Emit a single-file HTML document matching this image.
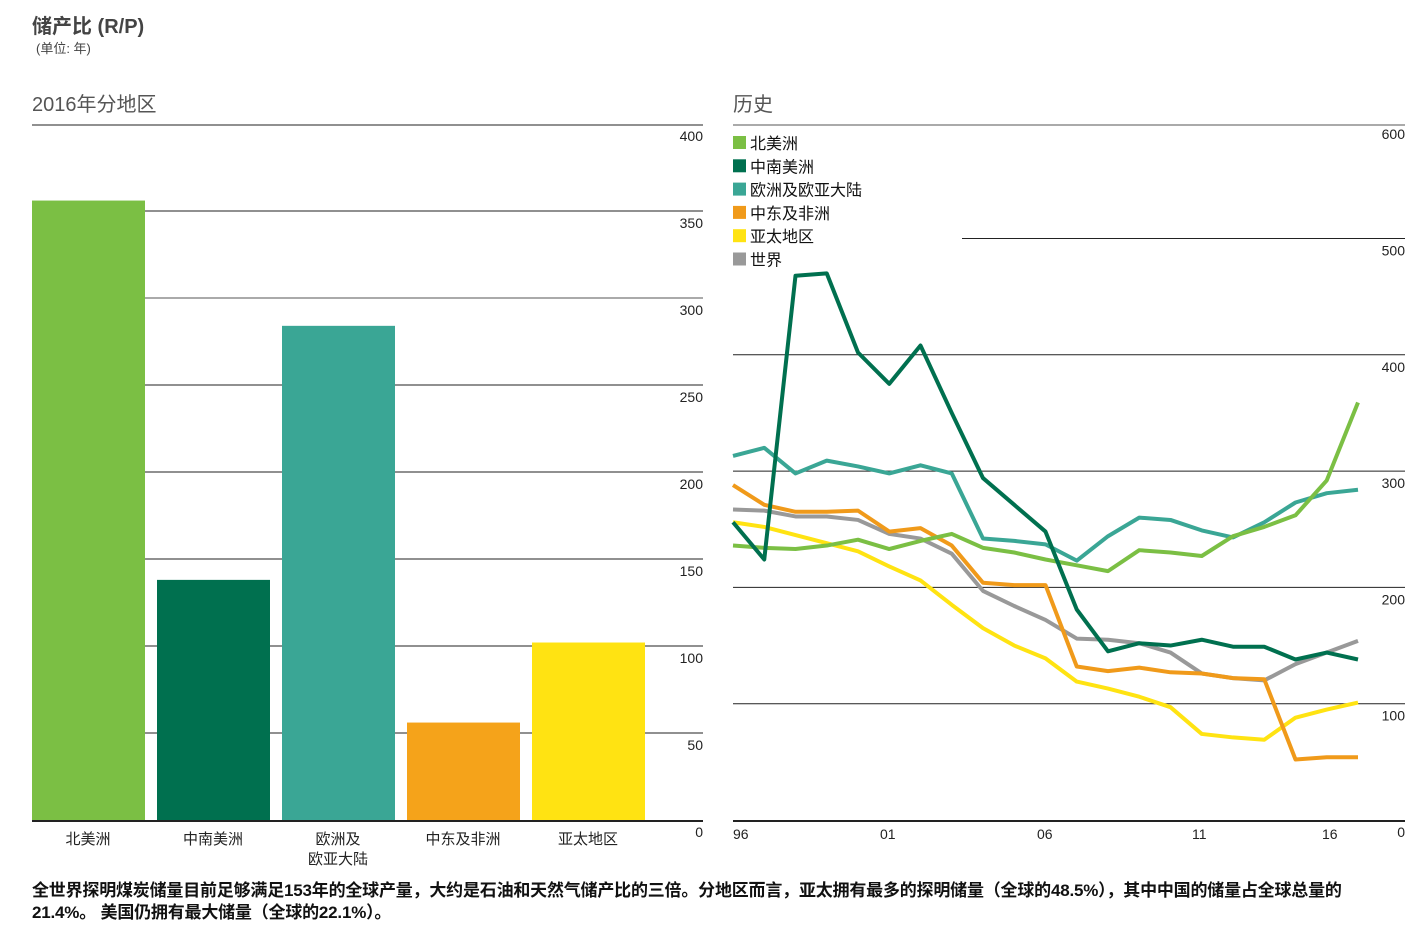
<!DOCTYPE html>
<html><head><meta charset="utf-8">
<style>
body{margin:0;width:1418px;height:940px;background:#fff;font-family:"Liberation Sans","Noto Sans CJK SC",sans-serif;color:#222;position:relative;overflow:hidden}
.t{position:absolute;white-space:nowrap}
</style></head>
<body>
<div class="t" style="left:32px;top:10px;font-size:20px;font-weight:bold;color:#444">储产比 (R/P)</div>
<div class="t" style="left:36px;top:38px;font-size:13px;color:#444">(单位: 年)</div>
<div class="t" style="left:32px;top:88px;font-size:20px;color:#555">2016年分地区</div>
<div class="t" style="left:733px;top:88px;font-size:20px;color:#555">历史</div>
<svg id="c" width="1418" height="940" style="position:absolute;left:0;top:0"></svg>
<div class="t" style="left:32px;top:880px;font-size:17px;line-height:22px;color:#111;font-weight:bold;letter-spacing:-0.2px">全世界探明煤炭储量目前足够满足153年的全球产量，大约是石油和天然气储产比的三倍。分地区而言，亚太拥有最多的探明储量（全球的48.5%），其中中国的储量占全球总量的<br>21.4%。 美国仍拥有最大储量（全球的22.1%）。</div>
<script>
const barCats=["北美洲","中南美洲","欧洲及\n欧亚大陆","中东及非洲","亚太地区"];
const barVals=[356,138,284,56,102];
const barTicks=[0,50,100,150,200,250,300,350,400];
const years=[96,97,98,99,0,1,2,3,4,5,6,7,8,9,10,11,12,13,14,15,16];
const yearLabels=["96","01","06","11","16"];
const lineTicks=[0,100,200,300,400,500,600];
const seriesNames=["北美洲","中南美洲","欧洲及欧亚大陆","中东及非洲","亚太地区","世界"];
const sNorthAm=[236,234,233,236,241,233,240,246,234,230,224,219,214,232,230,227,244,252,262,292,359];
const sSouthAm=[256,224,468,470,402,375,408,350,294,271,248,181,145,152,150,155,149,149,138,144,138];
const sEurope=[313,320,298,309,304,298,305,298,242,240,237,223,244,260,258,249,243,256,273,281,284];
const sMideast=[288,271,265,265,266,248,251,236,204,202,202,132,128,131,127,126,122,121,52,54,54];
const sAsia=[256,252,245,238,231,218,206,185,165,150,139,119,113,106,97,74,71,69,88,95,101];
const sWorld=[267,266,261,261,258,246,242,229,197,184,172,156,155,152,144,126,122,120,134,144,154];
const colors=["#7bbf44","#00704f","#3aa695","#f09a1a","#ffe312","#999999"];
const barColors=["#7bbf44","#00704f","#3aa695","#f5a31a","#ffe312"];
const svg=document.getElementById('c');const NS="http://www.w3.org/2000/svg";
function mk(t,a,txt){const e=document.createElementNS(NS,t);for(const k in a)e.setAttribute(k,a[k]);if(txt!=null)e.textContent=txt;svg.appendChild(e);return e;}
// left
const yL=v=>820-v*1.74;
mk('line',{x1:32,x2:703,y1:125,y2:125,stroke:'#222','stroke-width':1});
barTicks.forEach(t=>{if(t>0&&t<400){const l=mk('line',{x1:32,x2:703,y1:yL(t),y2:yL(t),stroke:t==300?'#aaa':'#222','stroke-width':t==300?2:1});}
 const e=mk('text',{x:703,y:yL(t)+(t==400?17:17),'text-anchor':'end','font-size':14,fill:'#222'},String(t));});
barVals.forEach((v,i)=>{const x=32+i*125;const r=mk('rect',{x:x,y:yL(v),width:113,height:v*1.74,fill:barColors[i]});
 barCats[i].split('\n').forEach((s,j)=>{const e=mk('text',{x:x+56,y:844+j*20,'text-anchor':'middle','font-size':15,fill:'#222'},s);});});
mk('line',{x1:32,x2:703,y1:821,y2:821,stroke:'#222','stroke-width':2});
// right
const yR=v=>820-v*1.163;const xR=i=>733+i*31.25;
mk('line',{x1:733,x2:1405,y1:125,y2:125,stroke:'#aaa','stroke-width':2});
lineTicks.forEach(t=>{if(t>0&&t<600){const l=mk('line',{x1:t==500?962:733,x2:1405,y1:yR(t),y2:yR(t),stroke:'#222','stroke-width':1});}
 const e=mk('text',{x:1405,y:yR(t)+17,'text-anchor':'end','font-size':14,fill:'#222'},String(t));});
mk('line',{x1:733,x2:1405,y1:821,y2:821,stroke:'#222','stroke-width':2});
const lxs=[733,880,1037,1192,1322];
yearLabels.forEach((s,i)=>{const e=mk('text',{x:lxs[i],y:839,'font-size':14,fill:'#222'},s);});
const order=[sWorld,sAsia,sMideast,sEurope,sNorthAm,sSouthAm];const oc=[5,4,3,2,0,1];
order.forEach((s,k)=>{const p=mk('polyline',{points:s.map((v,i)=>xR(i)+','+yR(v)).join(' '),fill:'none',stroke:colors[oc[k]],'stroke-width':4,'stroke-linejoin':'round'});});
seriesNames.forEach((n,i)=>{const y=136+i*23.3;const r=mk('rect',{x:733,y:y,width:13,height:13,fill:colors[i]});
 const e=mk('text',{x:750,y:y+13,'font-size':16,fill:'#111'},n);});
</script>
</body></html>
